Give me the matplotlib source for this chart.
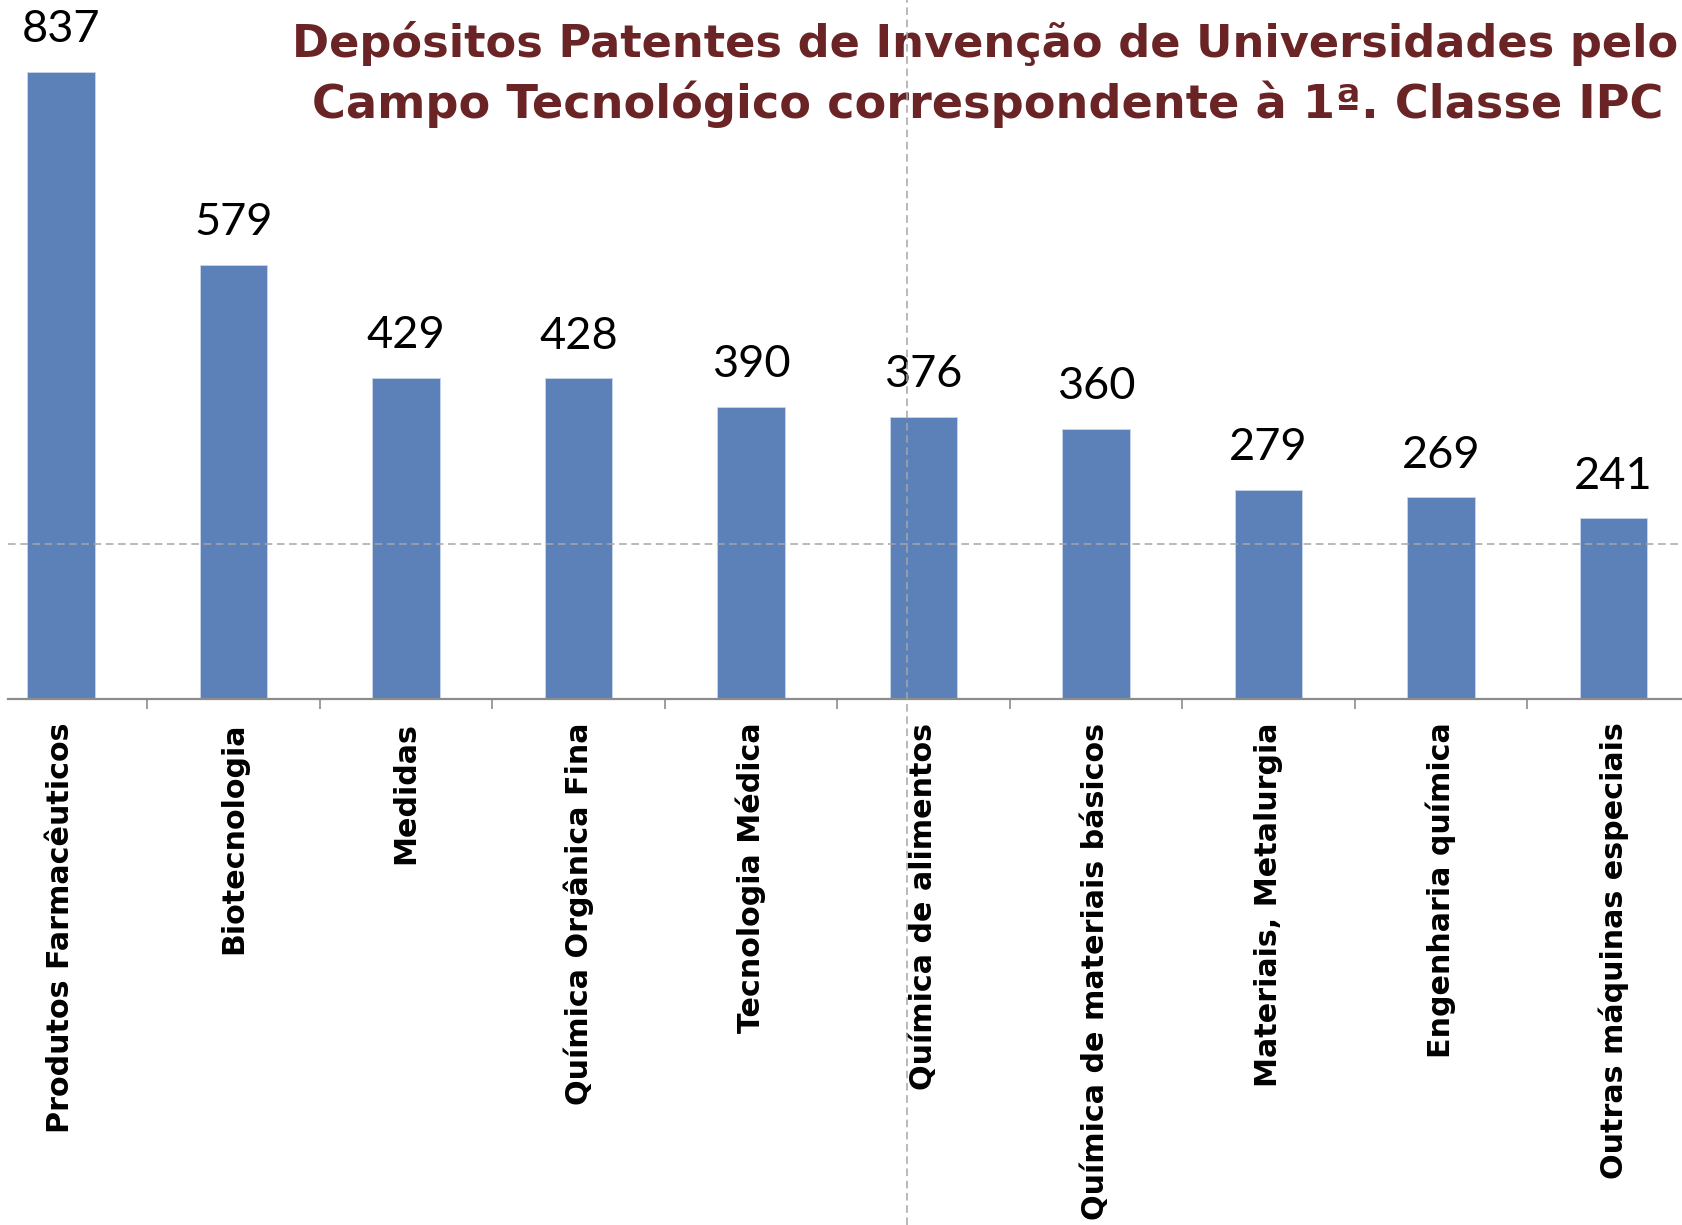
import matplotlib
matplotlib.use("Agg")
import matplotlib.pyplot as plt
from matplotlib.lines import Line2D
import numpy as np

categories = [
    "Produtos Farmacêuticos",
    "Biotecnologia",
    "Medidas",
    "Química Orgânica Fina",
    "Tecnologia Médica",
    "Química de alimentos",
    "Química de materiais básicos",
    "Materiais, Metalurgia",
    "Engenharia química",
    "Outras máquinas especiais",
]
values = [837, 579, 429, 428, 390, 376, 360, 279, 269, 241]
title_line1 = "Depósitos Patentes de Invenção de Universidades pelo"
title_line2 = "Campo Tecnológico correspondente à 1ª. Classe IPC"

W, H = 1682, 1225
fig = plt.figure(figsize=(W / 100, H / 100), dpi=100)
fig.patch.set_facecolor("white")

base_px = 699
slot = 172.5
c0 = 61
ax = fig.add_axes([8 / W, (H - base_px) / H, (W - 8) / W, base_px / H])
ax.set_xlim((8 - c0) / slot, (W - c0) / slot)
ax.set_ylim(0, base_px / (627 / 837))

x = np.arange(len(categories))
ax.bar(x, values, width=0.39, color="#5B81B8", edgecolor="#c9d5ea", linewidth=0.6, zorder=2)

for xi, v in zip(x, values):
    ax.annotate(str(v), (xi, v), xytext=(0, 21.5), textcoords="offset points",
                ha="center", va="baseline", fontsize=32.5, family="Lato", color="black")

for s in ["left", "right", "top"]:
    ax.spines[s].set_visible(False)
ax.spines["bottom"].set_color("#8c8c8c")
ax.spines["bottom"].set_linewidth(1.6)
ax.set_yticks([])

ax.set_xticks(x)
ax.set_xticklabels(categories, rotation=90, ha="center", va="top",
                   fontsize=21.7, fontweight="bold", family="DejaVu Sans")
ax.set_xticks(x[:-1] + 0.5, minor=True)
ax.tick_params(axis="x", which="major", length=0, pad=17)
ax.tick_params(axis="x", which="minor", length=7.5, width=1.2, color="#8c8c8c", direction="out")

# slide guide lines
fig.add_artist(Line2D([8 / W, 1], [1 - 543.5 / H] * 2, transform=fig.transFigure,
                      ls=(0, (5, 3)), color="#a6a6a6", lw=1.1, zorder=5))
fig.add_artist(Line2D([907.3 / W] * 2, [0, 1], transform=fig.transFigure,
                      ls=(0, (5, 3)), color="#a6a6a6", lw=1.1, zorder=5))

title_color = "#6B2425"
fig.text(292 / W, 1 - 57 / H, title_line1, ha="left", va="baseline", fontsize=32.2,
         fontweight="bold", color=title_color, family="DejaVu Sans")
fig.text(312 / W, 1 - 118 / H, title_line2, ha="left", va="baseline", fontsize=33.3,
         fontweight="bold", color=title_color, family="DejaVu Sans")

fig.savefig("out.png", dpi=100, facecolor="white")
